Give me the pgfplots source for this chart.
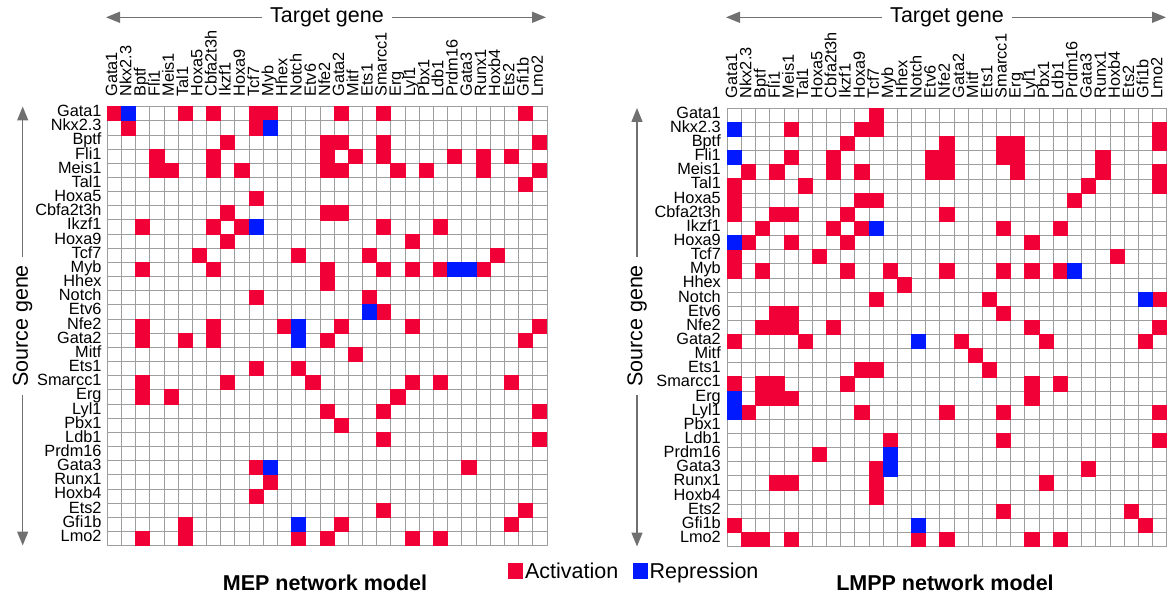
\documentclass[border=0pt]{standalone}
\usepackage{pgfplots}
\pgfplotsset{compat=1.18}
\usepackage{fontspec}
\setmainfont{Liberation Sans}
\usetikzlibrary{arrows.meta}

\definecolor{actred}{RGB}{240,0,55}
\definecolor{repblue}{RGB}{0,25,255}
\definecolor{gridgray}{RGB}{158,158,158}
\definecolor{arrowgray}{RGB}{112,112,112}

\newcommand{\bigfont}{\fontsize{21.5}{24}\selectfont}

\pgfplotsset{
  genegrid/.style={
    scale only axis,
    xmin=-0.5, xmax=30.5, ymin=-0.5, ymax=30.5,
    y dir=reverse,
    xtick={0,...,30}, ytick={0,...,30},
    xticklabels={Gata1,Nkx2.3,Bptf,Fli1,Meis1,Tal1,Hoxa5,Cbfa2t3h,Ikzf1,Hoxa9,Tcf7,Myb,Hhex,Notch,Etv6,Nfe2,Gata2,Mitf,Ets1,Smarcc1,Erg,Lyl1,Pbx1,Ldb1,Prdm16,Gata3,Runx1,Hoxb4,Ets2,Gfi1b,Lmo2},
    yticklabels={Gata1,Nkx2.3,Bptf,Fli1,Meis1,Tal1,Hoxa5,Cbfa2t3h,Ikzf1,Hoxa9,Tcf7,Myb,Hhex,Notch,Etv6,Nfe2,Gata2,Mitf,Ets1,Smarcc1,Erg,Lyl1,Pbx1,Ldb1,Prdm16,Gata3,Runx1,Hoxb4,Ets2,Gfi1b,Lmo2},
    xticklabel pos=upper,
    major tick length=0pt, minor tick length=0pt,
    minor xtick={-0.5,0.5,...,30.5}, minor ytick={-0.5,0.5,...,30.5},
    xminorgrids=true, yminorgrids=true,
    minor grid style={gridgray, line width=1pt},
    axis line style={gridgray, line width=1pt},
    axis on top,
    tick label style={font=\fontsize{16.3}{18}\selectfont, inner sep=0pt,
      text height=0.7em, text depth=0.13em},
    xticklabel style={rotate=90, anchor=west},
    yticklabel style={anchor=east},
    xticklabel shift=10pt,
    clip=false,
  },
  act/.style={only marks, mark=square*, mark size=7.09pt, color=actred,
    mark options={line width=0pt},
    legend image code/.code={\fill[actred] (0pt,-7.5pt) rectangle (14pt,7.5pt);}},
  rep/.style={only marks, mark=square*, mark size=7.09pt, color=repblue,
    mark options={line width=0pt},
    legend image code/.code={\fill[repblue] (0pt,-7.5pt) rectangle (14pt,7.5pt);}},
}

\begin{document}
\begin{tikzpicture}
\useasboundingbox (0pt,0pt) rectangle (1168pt,598pt);

% MEP network: rows = source gene, columns = target gene
\begin{axis}[genegrid,
  at={(107.3pt,52.3pt)}, anchor=south west,
  width=439.7pt, height=439pt,
  yticklabel shift=5.6pt,
  legend style={at={(axis description cs:0.9113,-0.0576)}, anchor=west,
    draw=none, fill=none, legend columns=2, font=\bigfont,
    inner sep=0pt, nodes={inner xsep=2.5pt, inner ysep=0pt},
    /tikz/every even column/.append style={column sep=12pt}},
]
\addplot[act] coordinates {
(0,0) (5,0) (7,0) (10,0) (11,0) (16,0) (19,0) (29,0)
(1,1) (10,1)
(8,2) (15,2) (16,2) (19,2) (30,2)
(3,3) (7,3) (15,3) (17,3) (19,3) (24,3) (26,3) (28,3)
(3,4) (4,4) (7,4) (9,4) (15,4) (16,4) (20,4) (22,4) (26,4) (30,4)
(29,5)
(10,6)
(8,7) (15,7) (16,7)
(2,8) (7,8) (9,8) (19,8) (23,8)
(8,9) (21,9)
(6,10) (13,10) (18,10) (27,10)
(2,11) (7,11) (15,11) (19,11) (21,11) (23,11) (26,11)
(15,12)
(10,13) (18,13)
(19,14)
(2,15) (7,15) (12,15) (16,15) (21,15) (30,15)
(2,16) (5,16) (7,16) (15,16) (29,16)
(17,17)
(10,18) (13,18)
(2,19) (8,19) (14,19) (21,19) (23,19) (28,19)
(2,20) (4,20) (20,20)
(15,21) (19,21) (30,21)
(16,22)
(19,23) (30,23)
(10,25) (25,25)
(11,26)
(10,27)
(19,28) (29,28)
(5,29) (16,29) (28,29)
(2,30) (5,30) (13,30) (15,30) (21,30) (23,30)
};
\addlegendentry{Activation}
\addplot[rep] coordinates {
(1,0) (11,1) (10,8) (24,11) (25,11) (18,14) (13,15) (13,16) (11,25) (13,29)
};
\addlegendentry{Repression}
\end{axis}

% LMPP network
\begin{axis}[genegrid,
  at={(727.3pt,51.3pt)}, anchor=south west,
  width=439.4pt, height=438.4pt,
  yticklabel shift=6.3pt,
]
\addplot[act] coordinates {
(10,0)
(4,1) (9,1) (10,1) (30,1)
(8,2) (15,2) (19,2) (20,2) (30,2)
(4,3) (7,3) (14,3) (15,3) (19,3) (20,3) (26,3)
(1,4) (3,4) (7,4) (9,4) (14,4) (15,4) (20,4) (26,4) (30,4)
(0,5) (5,5) (25,5) (30,5)
(0,6) (9,6) (10,6) (24,6)
(0,7) (3,7) (4,7) (8,7) (15,7)
(2,8) (7,8) (9,8) (19,8) (23,8)
(1,9) (4,9) (8,9) (21,9)
(0,10) (6,10) (27,10)
(0,11) (2,11) (8,11) (11,11) (15,11) (19,11) (21,11) (23,11)
(12,12)
(10,13) (18,13) (30,13)
(3,14) (4,14) (19,14)
(2,15) (3,15) (4,15) (7,15) (21,15) (30,15)
(0,16) (5,16) (16,16) (22,16) (29,16)
(17,17)
(9,18) (10,18) (18,18)
(0,19) (2,19) (3,19) (8,19) (21,19) (23,19)
(2,20) (3,20) (4,20) (21,20)
(1,21) (9,21) (15,21) (19,21) (30,21)
(11,23) (19,23) (30,23)
(6,24)
(10,25) (25,25)
(3,26) (4,26) (10,26) (22,26)
(10,27)
(19,28) (28,28)
(0,29) (29,29)
(1,30) (2,30) (4,30) (13,30) (15,30) (21,30) (23,30)
};
\addplot[rep] coordinates {
(0,1) (0,3) (10,8) (0,9) (24,11) (29,13) (13,16) (0,20) (0,21) (11,24) (11,25) (13,29)
};
\end{axis}

% Axis direction arrows and headings
\tikzset{dirarrow/.style={arrowgray, line width=1.5pt,
  {Triangle[length=14pt,width=11pt]}-{Triangle[length=14pt,width=11pt]}}}
\draw[dirarrow] (106pt,580.7pt) -- (546pt,580.7pt);
\node[fill=white, inner xsep=8pt, font=\bigfont] at (327pt,580.7pt) {Target gene};
\draw[dirarrow] (726pt,580.7pt) -- (1166pt,580.7pt);
\node[fill=white, inner xsep=8pt, font=\bigfont] at (947pt,580.7pt) {Target gene};

\draw[dirarrow] (22.7pt,491.5pt) -- (22.7pt,52.5pt);
\node[fill=white, inner xsep=8pt, rotate=90, font=\bigfont] at (22.7pt,272pt) {Source gene};
\draw[dirarrow] (637pt,490pt) -- (637pt,51.5pt);
\node[fill=white, inner xsep=8pt, rotate=90, font=\bigfont] at (637pt,272pt) {Source gene};

\node[font=\bigfont\bfseries] at (325pt,15pt) {MEP network model};
\node[font=\bigfont\bfseries] at (945pt,15pt) {LMPP network model};
\end{tikzpicture}
\end{document}
